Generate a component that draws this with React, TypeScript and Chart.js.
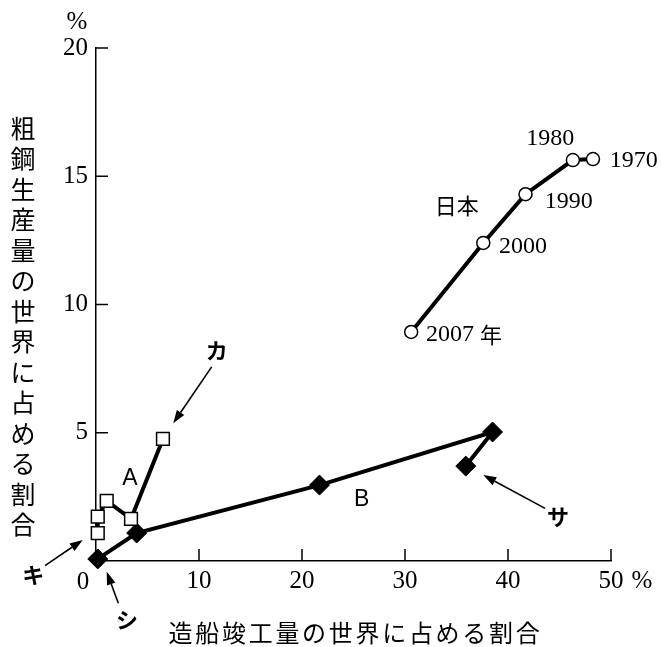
import React, { useEffect, useRef } from 'react';
import { Chart, registerables } from 'chart.js';

Chart.register(...registerables);

// Axis ticks
const xTickValues = [0, 10, 20, 30, 40, 50];
const yTickValues = [0, 5, 10, 15, 20];

// 日本 (white circles)
const japanX = [30.6, 37.6, 41.7, 46.3, 48.25];
const japanY = [8.93, 12.4, 14.3, 15.63, 15.67];
const japanYears = ['2007 年', '2000', '1990', '1980', '1970'];
const japanLabelX = [35.73, 41.46, 45.9, 44.1, 52.2];
const japanLabelY = [8.81, 12.25, 14.01, 16.48, 15.6];

// A (white squares)
const aX = [6.5, 3.4, 1.04, 0.17, 0.17];
const aY = [4.76, 1.64, 2.34, 1.73, 1.09];

// B (black diamonds)
const bX = [0.17, 3.95, 21.7, 38.5, 35.9];
const bY = [0.08, 1.09, 2.96, 5.03, 3.7];

// Series labels
const seriesLabels = ['A', 'B', '日本'];
const seriesLabelX = [3.3, 25.8, 35.02];
const seriesLabelY = [3.2, 2.38, 13.85];

// Callouts with arrows
const calloutText = ['カ', 'キ', 'シ', 'サ'];
const calloutX = [11.72, -6.09, 3.0, 44.85];
const calloutY = [8.2, -0.55, -2.3, 1.73];
const arrowFromX = [11.23, -4.95, 2.17, 43.6];
const arrowFromY = [7.57, -0.18, -1.65, 2.05];
const arrowToX = [7.5, -1.29, 1.04, 37.6];
const arrowToY = [5.37, 0.82, -0.42, 3.35];

const xTitle = '造船竣工量の世界に占める割合';
const yTitle = '粗鋼生産量の世界に占める割合';

const SERIF = '"Liberation Serif", "DejaVu Serif", serif';
const CJK = '"Noto Sans CJK JP", sans-serif';

const toPts = (xs: number[], ys: number[]) => xs.map((x, i) => ({ x, y: ys[i] }));

const overlay = {
  id: 'overlay',
  afterDraw(chart: any) {
    const { ctx, chartArea, scales } = chart;
    const xs = scales.x;
    const ys = scales.y;
    const px = (v: number) => xs.getPixelForValue(v);
    const py = (v: number) => ys.getPixelForValue(v);
    ctx.save();
    ctx.strokeStyle = '#000';
    ctx.fillStyle = '#000';
    ctx.lineWidth = 1.5;
    // inward tick marks
    ys.ticks.forEach((t: any) => {
      if (t.value === 0) return;
      const y = py(t.value);
      ctx.beginPath();
      ctx.moveTo(chartArea.left, y);
      ctx.lineTo(chartArea.left + 12, y);
      ctx.stroke();
    });
    xs.ticks.forEach((t: any) => {
      if (t.value === 0) return;
      const x = px(t.value);
      ctx.beginPath();
      ctx.moveTo(x, chartArea.bottom);
      ctx.lineTo(x, chartArea.bottom - 12);
      ctx.stroke();
    });

    // origin "0" and % units
    ctx.font = `25px ${SERIF}`;
    ctx.textAlign = 'center';
    ctx.textBaseline = 'middle';
    ctx.fillText('0', chartArea.left - 13, chartArea.bottom + 21);
    ctx.fillText('%', chartArea.left - 19, chartArea.top - 26);
    ctx.fillText('%', chartArea.right + 31, chartArea.bottom + 20);

    // year labels
    ctx.font = `24px ${SERIF}`;
    japanYears.forEach((t, i) => {
      if (t.includes('年')) {
        const digits = t.replace(' 年', '');
        const cx = px(japanLabelX[i]);
        const cy = py(japanLabelY[i]);
        ctx.font = `24px ${SERIF}`;
        const wd = ctx.measureText(digits + ' ').width;
        ctx.font = `22px ${CJK}`;
        const wk = ctx.measureText('年').width;
        const start = cx - (wd + wk) / 2;
        ctx.textAlign = 'left';
        ctx.font = `24px ${SERIF}`;
        ctx.fillText(digits, start, cy);
        ctx.font = `22px ${CJK}`;
        ctx.fillText('年', start + wd, cy);
        ctx.textAlign = 'center';
        ctx.font = `24px ${SERIF}`;
      } else {
        ctx.fillText(t, px(japanLabelX[i]), py(japanLabelY[i]));
      }
    });

    // series labels
    seriesLabels.forEach((t, i) => {
      ctx.font = /[A-Z]/.test(t) ? `23px "Liberation Sans", Arial, sans-serif` : `22px ${CJK}`;
      ctx.fillText(t, px(seriesLabelX[i]), py(seriesLabelY[i]));
    });

    // callouts
    ctx.font = `bold 22px ${CJK}`;
    calloutText.forEach((t, i) => {
      ctx.fillText(t, px(calloutX[i]), py(calloutY[i]));
      const x1 = px(arrowFromX[i]);
      const y1 = py(arrowFromY[i]);
      const x2 = px(arrowToX[i]);
      const y2 = py(arrowToY[i]);
      const ang = Math.atan2(y2 - y1, x2 - x1);
      const hl = 13;
      const hw = 4.5;
      const bx = x2 - hl * Math.cos(ang);
      const by = y2 - hl * Math.sin(ang);
      ctx.lineWidth = 1.6;
      ctx.beginPath();
      ctx.moveTo(x1, y1);
      ctx.lineTo(bx, by);
      ctx.stroke();
      ctx.beginPath();
      ctx.moveTo(x2, y2);
      ctx.lineTo(bx + hw * Math.sin(ang), by - hw * Math.cos(ang));
      ctx.lineTo(bx - hw * Math.sin(ang), by + hw * Math.cos(ang));
      ctx.closePath();
      ctx.fill();
    });

    // axis titles
    ctx.font = `25px ${CJK}`;
    Array.from(yTitle).forEach((c, i) => {
      ctx.fillText(c, 23, 128 + i * 30.5);
    });
    ctx.font = `24px ${CJK}`;
    (ctx as any).letterSpacing = '2.7px';
    ctx.fillText(xTitle, (chartArea.left + chartArea.right) / 2 + 2, 633);
    (ctx as any).letterSpacing = '0px';
    ctx.restore();
  },
};

export default function App() {
  const ref = useRef<HTMLCanvasElement | null>(null);
  useEffect(() => {
    if (!ref.current) return;
    const chart = new Chart(ref.current, {
      type: 'scatter',
      data: {
        datasets: [
          {
            label: 'A',
            data: toPts(aX, aY),
            showLine: true,
            clip: false,
            borderColor: '#000',
            borderWidth: 4,
            pointStyle: 'rect',
            pointRadius: 9,
            pointBackgroundColor: '#fff',
            pointBorderColor: '#000',
            pointBorderWidth: 1.5,
          },
          {
            label: 'B',
            data: toPts(bX, bY),
            showLine: true,
            clip: false,
            borderColor: '#000',
            borderWidth: 4,
            pointStyle: 'rectRot',
            pointRadius: 10,
            pointBackgroundColor: '#000',
            pointBorderColor: '#000',
            pointBorderWidth: 1,
          },
          {
            label: '日本',
            data: toPts(japanX, japanY),
            showLine: true,
            clip: false,
            borderColor: '#000',
            borderWidth: 4,
            pointStyle: 'circle',
            pointRadius: 6.5,
            pointBackgroundColor: '#fff',
            pointBorderColor: '#000',
            pointBorderWidth: 1.5,
          },
        ],
      },
      options: {
        animation: false,
        responsive: true,
        maintainAspectRatio: false,
        layout: { padding: { left: 0, top: 48, right: 50, bottom: 46 } },
        plugins: { legend: { display: false }, tooltip: { enabled: false } },
        scales: {
          x: {
            type: 'linear',
            min: 0,
            max: 50,
            afterBuildTicks: (s: any) => {
              s.ticks = xTickValues.map((v) => ({ value: v }));
            },
            afterFit: (s: any) => {
              s.height = 40;
            },
            grid: { display: false, drawTicks: false },
            border: { display: true, color: '#000', width: 1.5 },
            ticks: {
              padding: 5,
              color: '#000',
              font: { family: SERIF, size: 25 },
              maxRotation: 0,
              callback: (v: any) => (v === 0 ? '' : String(v)),
            },
          },
          y: {
            type: 'linear',
            min: 0,
            max: 20,
            afterBuildTicks: (s: any) => {
              s.ticks = yTickValues.map((v) => ({ value: v }));
            },
            afterFit: (s: any) => {
              s.width = 96;
            },
            grid: { display: false, drawTicks: false },
            border: { display: true, color: '#000', width: 1.5 },
            ticks: {
              padding: 8,
              color: '#000',
              font: { family: SERIF, size: 25 },
              callback: (v: any) => (v === 0 ? '' : String(v)),
            },
          },
        },
      },
      plugins: [overlay],
    });
    return () => chart.destroy();
  }, []);
  return (
    <div style={{ position: 'absolute', left: 0, top: 0, width: 661, height: 647, background: '#fff' }}>
      <canvas ref={ref} />
    </div>
  );
}
